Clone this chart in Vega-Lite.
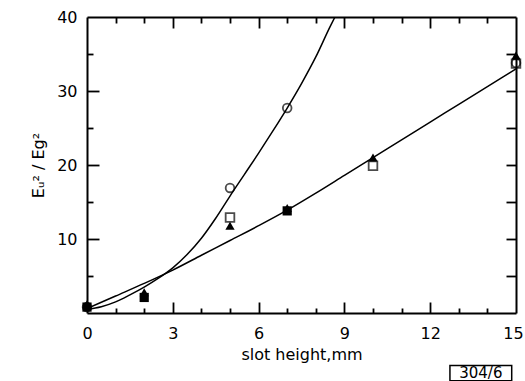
{
  "$schema": "https://vega.github.io/schema/vega-lite/v6.json",
  "width": 429,
  "height": 296,
  "autosize": {"type": "none"},
  "padding": {"left": 87, "top": 17, "right": 9, "bottom": 68},
  "background": "white",
  "config": {
    "view": {"stroke": null},
    "font": "DejaVu Sans",
    "axis": {
      "domainColor": "black", "domainWidth": 2, "tickColor": "black", "tickWidth": 1.8,
      "labelColor": "black", "labelFontSize": 16, "labelFont": "DejaVu Sans",
      "titleColor": "black", "titleFontSize": 16, "titleFontWeight": "normal", "titleFont": "DejaVu Sans",
      "grid": false
    }
  },
  "datasets": {
    "curves": [
      {"x": 0, "y": 0.5, "curve": "A"}, {"x": 0.5, "y": 0.85, "curve": "A"}, {"x": 1, "y": 1.5, "curve": "A"},
      {"x": 1.5, "y": 2.45, "curve": "A"}, {"x": 2, "y": 3.5, "curve": "A"}, {"x": 2.5, "y": 4.7, "curve": "A"},
      {"x": 3, "y": 6.1, "curve": "A"}, {"x": 3.5, "y": 7.9, "curve": "A"}, {"x": 4, "y": 10.1, "curve": "A"},
      {"x": 4.5, "y": 12.8, "curve": "A"}, {"x": 5, "y": 15.8, "curve": "A"}, {"x": 5.5, "y": 18.7, "curve": "A"},
      {"x": 6, "y": 21.6, "curve": "A"}, {"x": 6.5, "y": 24.6, "curve": "A"}, {"x": 7, "y": 27.7, "curve": "A"},
      {"x": 7.5, "y": 31.0, "curve": "A"}, {"x": 8, "y": 34.6, "curve": "A"}, {"x": 8.5, "y": 38.7, "curve": "A"},
      {"x": 8.67, "y": 40, "curve": "A"},
      {"x": 0, "y": 0.6, "curve": "B"}, {"x": 1, "y": 2.3, "curve": "B"}, {"x": 2, "y": 4.0, "curve": "B"},
      {"x": 3, "y": 5.8, "curve": "B"}, {"x": 4, "y": 7.8, "curve": "B"}, {"x": 5, "y": 9.8, "curve": "B"},
      {"x": 6, "y": 11.8, "curve": "B"}, {"x": 7, "y": 13.9, "curve": "B"}, {"x": 8, "y": 16.2, "curve": "B"},
      {"x": 9, "y": 18.6, "curve": "B"}, {"x": 10, "y": 21.0, "curve": "B"}, {"x": 11, "y": 23.4, "curve": "B"},
      {"x": 12, "y": 25.8, "curve": "B"}, {"x": 13, "y": 28.2, "curve": "B"}, {"x": 14, "y": 30.6, "curve": "B"},
      {"x": 15, "y": 33.0, "curve": "B"}
    ],
    "open": [
      {"x": 0, "y": 0.8, "marker": "circle"}, {"x": 5, "y": 16.9, "marker": "circle"},
      {"x": 7, "y": 27.7, "marker": "circle"}, {"x": 15, "y": 33.8, "marker": "circle"},
      {"x": 5, "y": 12.9, "marker": "square"}, {"x": 10, "y": 19.9, "marker": "square"},
      {"x": 15, "y": 33.7, "marker": "square"}
    ],
    "filled": [
      {"x": 0, "y": 0.8, "marker": "square"}, {"x": 2, "y": 2.1, "marker": "square"},
      {"x": 7, "y": 13.8, "marker": "square"},
      {"x": 0, "y": 1.2, "marker": "triangle"}, {"x": 2, "y": 2.8, "marker": "triangle"},
      {"x": 5, "y": 11.8, "marker": "triangle"}, {"x": 7, "y": 14.2, "marker": "triangle"},
      {"x": 10, "y": 21.0, "marker": "triangle"}, {"x": 15, "y": 34.8, "marker": "triangle"}
    ],
    "tag": [{"x1": 12.69, "x2": 14.85, "y1": -7.1, "y2": -9.15, "xc": 13.77, "yc": -8.1, "label": "304/6"}]
  },
  "resolve": {"axis": {"x": "independent", "y": "independent"}},
  "layer": [
    {
      "data": {"name": "curves"},
      "transform": [{"filter": "datum.curve === 'A'"}],
      "mark": {"type": "line", "color": "black", "strokeWidth": 1.5, "interpolate": "monotone", "clip": true},
      "encoding": {
        "x": {"field": "x", "type": "quantitative", "scale": {"domain": [0, 15], "nice": false},
          "axis": {"orient": "bottom", "values": [0, 3, 6, 9, 12, 15], "ticks": false, "labelPadding": 12,
            "labelFlush": false, "labelOffset": {"condition": {"test": "datum.value === 15", "value": -3}, "value": 0},
            "title": "slot height,mm", "titlePadding": 5}},
        "y": {"field": "y", "type": "quantitative", "scale": {"domain": [0, 40], "nice": false},
          "axis": {"orient": "left", "values": [10, 20, 30, 40], "ticks": false, "labelPadding": 10,
            "labelFlush": false, "title": "Eᵤ² / Eg²", "titlePadding": 10}}
      }
    },
    {
      "data": {"name": "curves"},
      "transform": [{"filter": "datum.curve === 'B'"}],
      "mark": {"type": "line", "color": "black", "strokeWidth": 1.5, "interpolate": "monotone", "clip": true},
      "encoding": {
        "x": {"field": "x", "type": "quantitative", "scale": {"domain": [0, 15], "nice": false},
          "axis": {"orient": "bottom", "values": [3, 6, 9, 12], "offset": -11, "tickSize": 11,
            "labels": false, "domain": false, "title": null}},
        "y": {"field": "y", "type": "quantitative", "scale": {"domain": [0, 40], "nice": false},
          "axis": {"orient": "left", "values": [10, 20, 30], "offset": -12, "tickSize": 12, "labels": false, "domain": false, "title": null}}
      }
    },
    {
      "data": {"name": "open"},
      "mark": {"type": "point", "filled": false, "stroke": "black", "strokeWidth": 1.8, "size": 75},
      "encoding": {
        "x": {"field": "x", "type": "quantitative", "scale": {"domain": [0, 15], "nice": false},
          "axis": {"orient": "bottom", "values": [1, 2, 4, 5, 7, 8, 10, 11, 13, 14], "offset": -5, "tickSize": 5,
            "labels": false, "domain": false, "title": null}},
        "y": {"field": "y", "type": "quantitative", "scale": {"domain": [0, 40], "nice": false},
          "axis": {"orient": "left", "values": [5, 15, 25, 35], "offset": -6, "tickSize": 6, "labels": false, "domain": false, "title": null}},
        "shape": {"field": "marker", "type": "nominal",
          "scale": {"domain": ["circle", "square", "triangle"], "range": ["circle", "square", "triangle-up"]}, "legend": null}
      }
    },
    {
      "data": {"name": "filled"},
      "mark": {"type": "point", "filled": true, "fill": "black", "opacity": 1, "size": 85},
      "encoding": {
        "x": {"field": "x", "type": "quantitative", "scale": {"domain": [0, 15], "nice": false},
          "axis": {"orient": "top", "ticks": false, "labels": false, "title": null}},
        "y": {"field": "y", "type": "quantitative", "scale": {"domain": [0, 40], "nice": false},
          "axis": {"orient": "right", "ticks": false, "labels": false, "title": null}},
        "shape": {"field": "marker", "type": "nominal",
          "scale": {"domain": ["circle", "square", "triangle"], "range": ["circle", "square", "triangle-up"]}, "legend": null}
      }
    },
    {
      "data": {"name": "tag"},
      "mark": {"type": "rect", "fill": null, "stroke": "black", "strokeWidth": 1.5, "clip": false},
      "encoding": {
        "x": {"field": "x1", "type": "quantitative", "scale": {"domain": [0, 15], "nice": false},
          "axis": {"orient": "top", "values": [3, 6, 9, 12], "offset": -11, "tickSize": 11, "labels": false, "domain": false, "title": null}},
        "x2": {"field": "x2"},
        "y": {"field": "y1", "type": "quantitative", "scale": {"domain": [0, 40], "nice": false},
          "axis": {"orient": "right", "values": [5, 10, 15, 20, 25, 30, 35], "offset": -10, "tickSize": 10, "labels": false, "domain": false, "title": null}},
        "y2": {"field": "y2"}
      }
    },
    {
      "data": {"name": "tag"},
      "mark": {"type": "text", "fontSize": 15, "font": "DejaVu Sans", "color": "black", "align": "center", "baseline": "middle", "clip": false},
      "encoding": {
        "x": {"field": "xc", "type": "quantitative", "scale": {"domain": [0, 15], "nice": false},
          "axis": {"orient": "top", "values": [1, 2, 4, 5, 7, 8, 10, 11, 13, 14], "offset": -6, "tickSize": 6, "labels": false, "domain": false, "title": null}},
        "y": {"field": "yc", "type": "quantitative", "scale": {"domain": [0, 40], "nice": false}, "axis": null},
        "text": {"field": "label"}
      }
    }
  ]
}
